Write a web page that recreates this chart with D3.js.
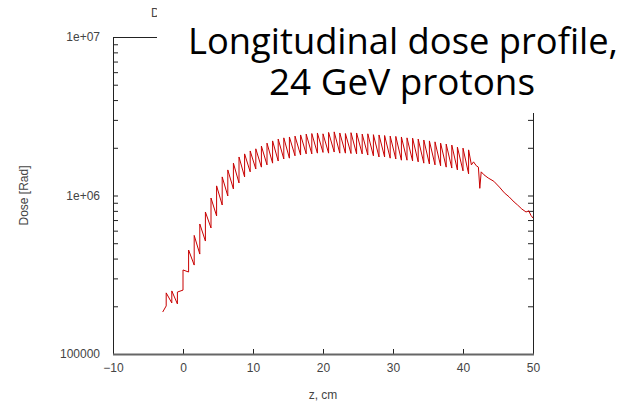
<!DOCTYPE html>
<html>
<head>
<meta charset="utf-8">
<script src="https://cdn.jsdelivr.net/npm/d3@7"></script>
<style>
  body { margin: 0; background: #fff; }
  svg { display: block; }
  .tick text { font-family: "Liberation Sans", sans-serif; font-size: 12px; fill: #444; }
  .tick line { stroke: #222; }
</style>
</head>
<body>
<svg id="chart" width="626" height="404"></svg>
<script>
// ---- data ----
// start of the curve, before the first tooth
let startZ = -2.9
let startDose = 1.84e5

// sawtooth: each tooth rises from toothLow to toothHigh at toothZ
let toothZ = [-2.4, -1.6, -0.8, 0.0, 0.8, 1.6, 2.4, 3.2, 4.0, 4.8, 5.6, 6.4, 7.2, 8.0,
    8.8, 9.6, 10.4, 11.2, 12.0, 12.8, 13.6, 14.4, 15.2, 16.0, 16.8, 17.6, 18.4, 19.2,
    20.0, 20.8, 21.6, 22.4, 23.2, 24.0, 24.8, 25.6, 26.4, 27.2, 28.0, 28.8, 29.6, 30.4,
    31.2, 32.0, 32.8, 33.6, 34.4, 35.2, 36.0, 36.8, 37.6, 38.4, 39.2, 40.0, 40.8]
let toothHigh = [2.43e5, 2.50e5, 2.46e5, 3.39e5, 4.53e5, 5.60e5, 6.61e5, 7.87e5, 9.64e5, 1.15e6,
    1.31e6, 1.45e6, 1.60e6, 1.75e6, 1.83e6, 1.91e6, 1.97e6, 2.05e6, 2.14e6, 2.21e6,
    2.27e6, 2.31e6, 2.34e6, 2.37e6, 2.41e6, 2.44e6, 2.46e6, 2.48e6, 2.45e6, 2.50e6,
    2.52e6, 2.48e6, 2.46e6, 2.49e6, 2.48e6, 2.44e6, 2.45e6, 2.42e6, 2.41e6, 2.39e6,
    2.37e6, 2.36e6, 2.34e6, 2.31e6, 2.30e6, 2.27e6, 2.24e6, 2.21e6, 2.18e6, 2.14e6,
    2.11e6, 2.08e6, 2.02e6, 1.99e6, 1.94e6]
let toothLow = [2.01e5, 2.10e5, 2.07e5, 2.53e5, 3.29e5, 3.64e5, 4.27e5, 5.16e5, 6.24e5, 7.43e5,
    8.71e5, 9.93e5, 1.10e6, 1.20e6, 1.31e6, 1.41e6, 1.47e6, 1.51e6, 1.56e6, 1.60e6,
    1.65e6, 1.70e6, 1.72e6, 1.78e6, 1.80e6, 1.83e6, 1.83e6, 1.85e6, 1.87e6, 1.85e6,
    1.88e6, 1.85e6, 1.85e6, 1.84e6, 1.83e6, 1.83e6, 1.80e6, 1.78e6, 1.75e6, 1.75e6,
    1.72e6, 1.70e6, 1.67e6, 1.67e6, 1.65e6, 1.63e6, 1.60e6, 1.58e6, 1.56e6, 1.54e6,
    1.51e6, 1.49e6, 1.45e6, 1.43e6, 1.37e6]

// smooth tail after the last tooth
let tailZ = [41.2, 41.5, 41.9, 42.2, 42.4, 42.6, 43.0, 43.6, 44.4, 45.2, 45.9, 46.6, 47.3, 47.8, 48.4, 49.0, 49.4, 49.7, 50.0]
let tailDose = [1.56e6, 1.63e6, 1.54e6, 1.51e6, 1.11e6, 1.41e6, 1.35e6, 1.29e6, 1.23e6, 1.13e6,
    1.04e6, 9.79e5, 9.10e5, 8.71e5, 8.22e5, 7.87e5, 8.00e5, 7.50e5, 7.21e5]

let xTicks = [-10, 0, 10, 20, 30, 40, 50]
let yLabels = [1e5, 1e6, 1e7]
let yLabelText = ["100000", "1e+06", "1e+07"]
let yMinor = [2e5, 3e5, 4e5, 5e5, 6e5, 7e5, 8e5, 9e5, 1e6, 2e6, 3e6, 4e6, 5e6, 6e6, 7e6, 8e6, 9e6]

let titleLines = ["Longitudinal dose profile,", "24 GeV protons"]

// ---- scales ----
let svg = d3.select("#chart")
let plotLeft = 113, plotRight = 533, plotTop = 37, plotBottom = 354

let x = d3.scaleLinear().domain([-10, 50]).range([plotLeft, plotRight])
let y = d3.scaleLog().domain([1e5, 1e7]).range([plotBottom, plotTop])

// ---- points of the curve ----
let points = [[startZ, startDose]]
toothZ.forEach(function (z, i) {
    points.push([z, toothLow[i]])
    points.push([z, toothHigh[i]])
})
tailZ.forEach(function (z, i) { points.push([z, tailDose[i]]) })

// ---- axes ----
svg.append("g")
    .attr("transform", "translate(0," + plotBottom + ")")
    .call(d3.axisBottom(x).tickValues(xTicks).tickSize(-5).tickPadding(9).tickFormat(d3.format("d")))
    .call(g => g.select(".domain").remove())

svg.append("g")
    .attr("transform", "translate(" + plotLeft + ",0)")
    .call(d3.axisLeft(y).tickValues(yLabels).tickSize(0).tickPadding(13)
        .tickFormat(function (d, i) { return yLabelText[i] }))
    .call(g => g.select(".domain").remove())

svg.append("g")
    .attr("transform", "translate(" + plotLeft + ",0)")
    .call(d3.axisLeft(y).tickValues(yMinor).tickSize(-5).tickFormat(""))
    .call(g => g.select(".domain").remove())

svg.append("g")
    .attr("transform", "translate(" + plotRight + ",0)")
    .call(d3.axisRight(y).tickValues(yMinor).tickSize(-5).tickFormat(""))
    .call(g => g.select(".domain").remove())

// frame
svg.append("rect")
    .attr("x", plotLeft + 0.5).attr("y", plotTop + 0.5)
    .attr("width", plotRight - plotLeft).attr("height", plotBottom - plotTop)
    .attr("fill", "none").attr("stroke", "#222").attr("stroke-width", 1)

svg.append("line")
    .attr("x1", plotLeft).attr("x2", plotRight + 1)
    .attr("y1", plotBottom + 0.5).attr("y2", plotBottom + 0.5)
    .attr("stroke", "#666").attr("stroke-width", 2)

// ---- curve ----
svg.append("path")
    .datum(points)
    .attr("fill", "none")
    .attr("stroke", "#c80000")
    .attr("stroke-width", 1)
    .attr("d", d3.line().x(d => x(d[0])).y(d => y(d[1])))

// axis titles
svg.append("text")
    .attr("x", (plotLeft + plotRight) / 2).attr("y", 399)
    .attr("text-anchor", "middle")
    .style("font-family", "Liberation Sans, sans-serif").style("font-size", "12px").style("fill", "#444")
    .text("z, cm")

svg.append("text")
    .attr("transform", "translate(28," + y(1e6) + ") rotate(-90)")
    .attr("text-anchor", "middle")
    .style("font-family", "Liberation Sans, sans-serif").style("font-size", "12px").style("fill", "#444")
    .text("Dose [Rad]")

// original plot title, hidden behind the slide caption
svg.append("text")
    .attr("x", 151).attr("y", 17)
    .style("font-family", "Liberation Sans, sans-serif").style("font-size", "12px").style("fill", "#444")
    .text("Dose")

// ---- caption box ----
svg.append("rect")
    .attr("x", 157).attr("y", 0).attr("width", 469).attr("height", 113)
    .attr("fill", "#fff")

svg.append("text")
    .attr("x", 403).attr("y", 54)
    .attr("text-anchor", "middle")
    .attr("textLength", 430).attr("lengthAdjust", "spacingAndGlyphs")
    .style("font-family", "Open Sans, sans-serif").style("font-size", "36px").style("fill", "#000")
    .text(titleLines[0])

svg.append("text")
    .attr("x", 402).attr("y", 95)
    .attr("text-anchor", "middle")
    .attr("textLength", 266).attr("lengthAdjust", "spacingAndGlyphs")
    .style("font-family", "Open Sans, sans-serif").style("font-size", "36px").style("fill", "#000")
    .text(titleLines[1])
</script>
</body>
</html>
